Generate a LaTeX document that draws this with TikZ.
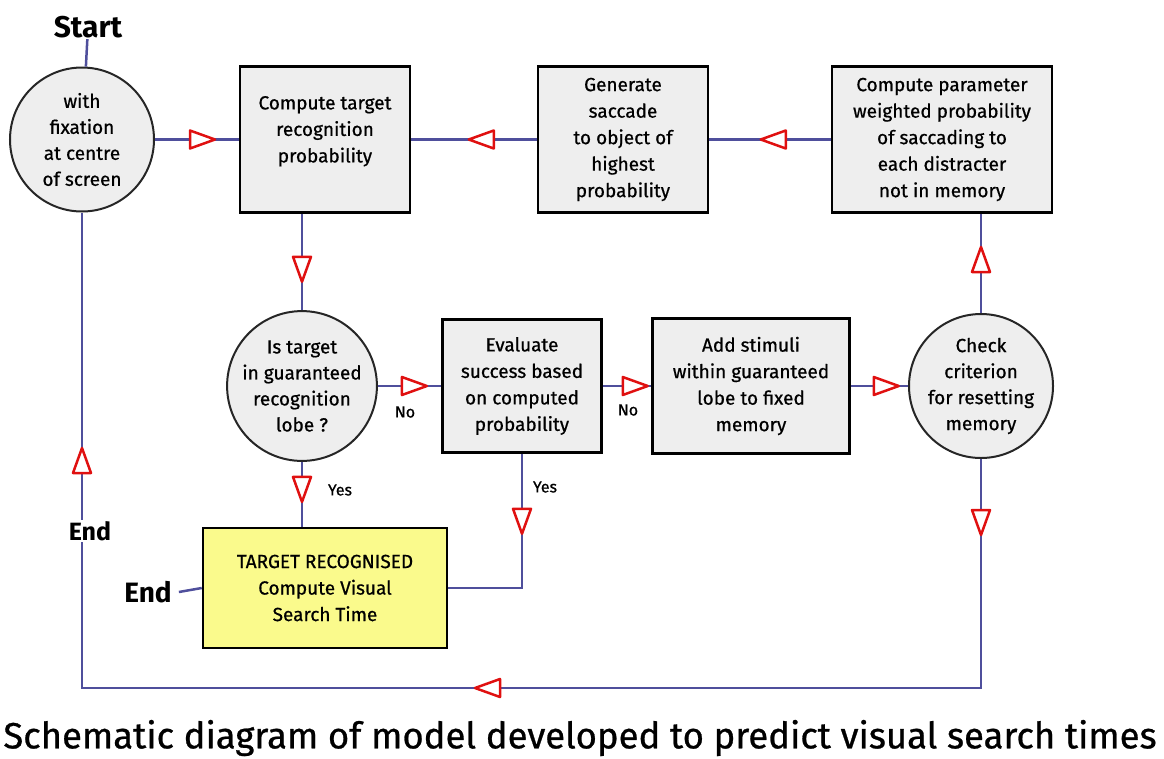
\documentclass[tikz,border=0pt]{standalone}
\usepackage{fontspec}
\setmainfont{Fira Sans}
\newfontfamily\medfont{Fira Sans}[FakeBold=0.7]
\usetikzlibrary{decorations.markings,calc}
\definecolor{flow}{HTML}{4F4F9C}
\definecolor{boxfill}{HTML}{EEEEEE}
\definecolor{yelfill}{HTML}{FAFA8C}
\definecolor{arr}{HTML}{E01010}
\newcommand\rhead{\draw[arr, fill=white, line width=2.5pt, line join=round] (0pt,0pt) -- (-25pt,9pt) -- (-25pt,-9pt) -- cycle;}
\tikzset{
  box/.style={draw=black, line width=2.5pt, fill=boxfill, align=center, inner sep=0pt,
    font=\medfont\fontsize{19}{26.5}\selectfont},
  circ/.style={circle, draw=black!85, line width=2pt, fill=boxfill, align=center,
    minimum size=144pt, inner sep=0pt, font=\medfont\fontsize{19}{26}\selectfont},
  flowline/.style={draw=flow, line width=2.5pt},
  head/.style={postaction={decorate, decoration={markings, mark=at position #1 with {\rhead}}}},
  lbl/.style={font=\medfont\fontsize{16}{16}\selectfont},
  bigtxt/.style={font=\fontsize{#1}{#1}\selectfont\bfseries, inner sep=1pt},
}
\begin{document}
\begin{tikzpicture}[x=1pt, y=-1pt]
\useasboundingbox (0,0) rectangle (1164,758);
% nodes
\node[bigtxt=30] (start) at (88,27) {Start};
\node[circ] (c1) at (82,139.5) {with\\fixation\\at centre\\of screen};
\node[box, minimum width=170pt, minimum height=146pt, text depth=0pt] (b1) at (325,139.5) {Compute target\\recognition\\probability\\[-6pt]};
\node[box, minimum width=170pt, minimum height=146pt] (b2) at (623,139.5) {Generate\\saccade\\to object of\\highest\\probability};
\node[box, minimum width=220pt, minimum height=146pt] (b3) at (942,139.5) {Compute parameter\\weighted probability\\of saccading to\\each distracter\\not in memory};
\node[circ] (c2) at (302,386) {Is target\\in guaranteed\\recognition\\lobe ?};
\node[box, minimum width=159pt, minimum height=133pt] (b4) at (522,386) {Evaluate\\success based\\on computed\\probability};
\node[box, minimum width=197pt, minimum height=135pt] (b5) at (751,386) {Add stimuli\\within guaranteed\\lobe to fixed\\memory};
\node[circ] (c3) at (981,386) {Check\\criterion\\for resetting\\memory};
\node[box, fill=yelfill, minimum width=244pt, minimum height=120pt] (yel) at (325,588) {TARGET RECOGNISED\\Compute Visual\\Search Time};
\node[bigtxt=28] (end2) at (148,592) {End};
\coordinate (loopy) at (0,688);
% connectors
\draw[flowline] (start) -- (c1);
\draw[flowline, head=60pt] (c1) -- (b1);
\draw[flowline, head=68pt] (b2) -- (b1);
\draw[flowline, head=70pt] (b3) -- (b2);
\draw[flowline, head=68pt] (b1.south -| c2.north) -- (c2.north);
\draw[flowline, head=49pt] (c2) -- (b4);
\draw[flowline, head=45pt] (b4) -- (b5);
\draw[flowline, head=48pt] (b5) -- (c3);
\draw[flowline, head=66pt] (c3.north) -- (c3.north |- b3.south);
\draw[flowline, head=40pt] (c2.south) -- (c2.south |- yel.north);
\draw[flowline, head=80pt] (b4.south) |- (yel.east);
\draw[flowline, head=76pt, head=735pt, head=1368pt] (c3.south) -- (c3.south |- loopy) -| (c1.south);
\draw[flowline] (end2.east) ++(6pt,0) -- (yel.west);
\node[bigtxt=25, fill=white] (end1) at (90,531) {End};
% labels
\node[lbl] (no1) at (405,412) {No};
\node[lbl] (no2) at (628,410) {No};
\node[lbl] (yes1) at (340,490) {Yes};
\node[lbl] (yes2) at (545,487) {Yes};
\node[font=\medfont\fontsize{36.5}{36.5}\selectfont] (cap) at (580,738) {Schematic diagram of model developed to predict visual search times};
\end{tikzpicture}
\end{document}
